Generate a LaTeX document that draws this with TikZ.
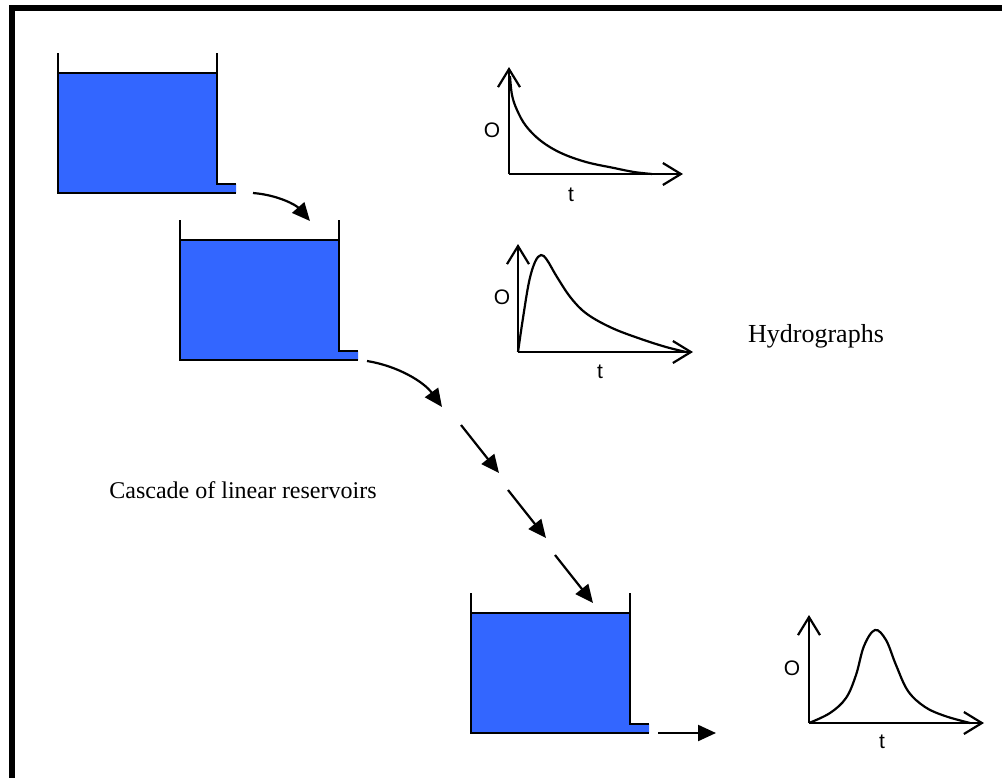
\documentclass[tikz,border=0pt]{standalone}
\usepackage{fontspec}
\setmainfont{Liberation Serif}
\newfontfamily\arialf{Liberation Sans}
\usetikzlibrary{arrows.meta}
\definecolor{water}{HTML}{3366FF}
\tikzset{
  wall/.style={line width=2.6pt, black, line join=miter},
  axisline/.style={line width=2.2pt, black, -{Straight Barb[length=18pt,width=22pt,line width=2.2pt]}},
  hcurve/.style={line width=2.2pt, black},
  flow/.style={line width=2.2pt, black, -{Triangle[length=18pt,width=16pt]}},
  axlabel/.style={font=\arialf\fontsize{21}{24}\selectfont, inner sep=0pt},
  titleA/.style={font=\fontsize{26}{30}\selectfont, inner sep=0pt},
  titleB/.style={font=\fontsize{24}{28}\selectfont, inner sep=0pt}
}
\newcommand{\myreservoir}[1]{%
  \begin{scope}[shift={#1}]
    \fill[water] (0,-120) -- (159,-120) -- (159,-9) -- (178,-9) -- (178,0) -- (0,0) -- cycle;
    \draw[wall] (0,-140) -- (0,0) -- (178,0);
    \draw[wall] (159,-140) -- (159,-9) -- (178,-9);
    \draw[wall] (0,-120) -- (159,-120);
  \end{scope}}
\begin{document}
\begin{tikzpicture}[x=1pt,y=-1pt]
\useasboundingbox (0,0) rectangle (1002,777);
\begin{scope}
\clip (0,0) rectangle (1002,777);
\draw[line width=6pt] (12,1000) -- (12,8) -- (1100,8);
\end{scope}

% reservoirs
\myreservoir{(58,193)}
\myreservoir{(180,360)}
\myreservoir{(471,733)}

% flow connectors
\coordinate (r1out) at (253,193);
\coordinate (r2in) at (310,221);
\coordinate (r2out) at (367,361);
\coordinate (c1) at (442,407);
\coordinate (c2s) at (461,425);
\coordinate (c2) at (499,473);
\coordinate (c3s) at (508,490);
\coordinate (c3) at (546,538);
\coordinate (c4s) at (555,555);
\coordinate (r3in) at (593,603);
\coordinate (r3out) at (658,733);
\coordinate (outend) at (716,733);

\draw[flow] (r1out) .. controls (278,195) and (296,205) .. (r2in);
\draw[flow] (r2out) .. controls (398,366) and (424,382) .. (c1);
\draw[flow] (c2s) -- (c2);
\draw[flow] (c3s) -- (c3);
\draw[flow] (c4s) -- (r3in);
\draw[flow] (r3out) -- (outend);

% hydrograph 1
\coordinate (g1o) at (509,174);
\coordinate (g1y) at (509,67);
\coordinate (g1x) at (683,174);
\draw[axisline] (g1o) -- (g1y);
\draw[axisline] (g1o) -- (g1x);
\draw[hcurve] plot[smooth, tension=0.6] coordinates {(510,76) (512,95) (517,110) (526,126) (541,141) (561,153) (586,162) (614,168) (634,172) (652,174)};
\node[axlabel] (o1) at (492,130) {O};
\node[axlabel] (t1) at (571,195) {t};

% hydrograph 2
\coordinate (g2o) at (518,352);
\coordinate (g2y) at (518,244);
\coordinate (g2x) at (693,352);
\draw[axisline] (g2o) -- (g2y);
\draw[axisline] (g2o) -- (g2x);
\draw[hcurve] plot[smooth, tension=0.6] coordinates {(518,352) (523,318) (529,282) (535,262) (541,255) (547,260) (557,277) (571,298) (587,314) (612,328) (641,339) (666,347) (686,352)};
\node[axlabel] (o2) at (502,297) {O};
\node[axlabel] (t2) at (600,372) {t};

% hydrograph 3
\coordinate (g3o) at (809,723);
\coordinate (g3y) at (809,615);
\coordinate (g3x) at (984,723);
\draw[axisline] (g3o) -- (g3y);
\draw[axisline] (g3o) -- (g3x);
\draw[hcurve] plot[smooth, tension=0.6] coordinates {(809,723) (830,713) (846,698) (856,675) (864,646) (875,630) (886,640) (896,665) (908,691) (925,707) (945,716) (970,723)};
\node[axlabel] (o3) at (792,668) {O};
\node[axlabel] (t3) at (882,742) {t};

% titles
\node[titleA, anchor=base] (hyd) at (816,342) {Hydrographs};
\node[titleB, anchor=base] (casc) at (243,498) {Cascade of linear reservoirs};
\end{tikzpicture}
\end{document}
